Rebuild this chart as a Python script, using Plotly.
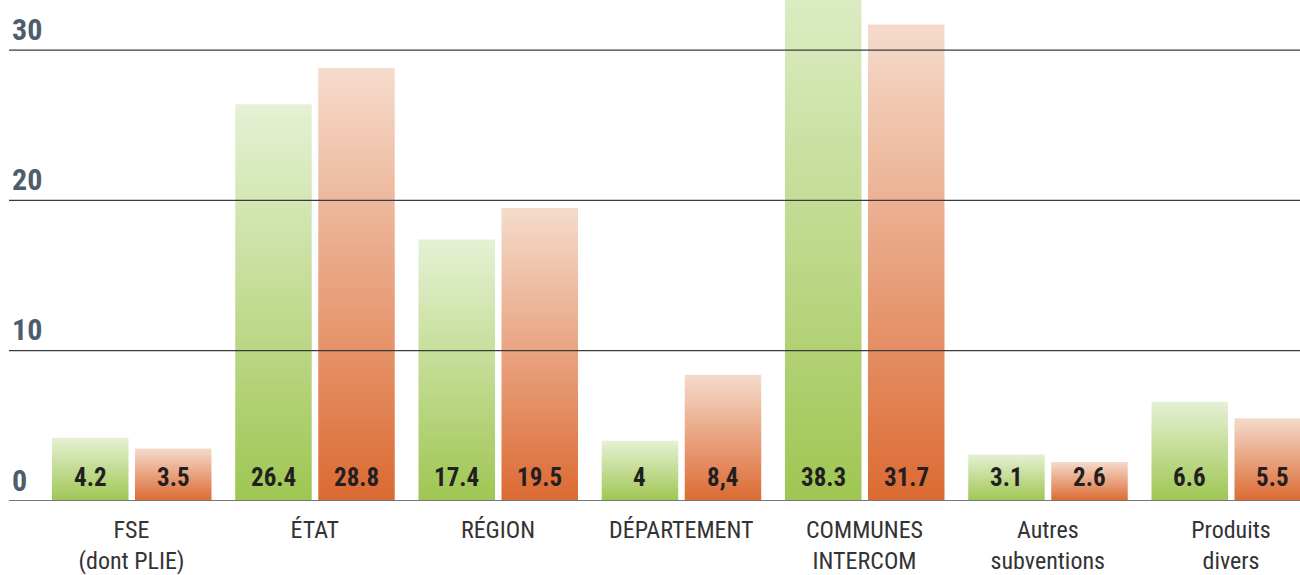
import plotly.graph_objects as go

categories = ["FSE<br>(dont PLIE)", "ÉTAT", "RÉGION", "DÉPARTEMENT",
              "COMMUNES<br>INTERCOM", "Autres<br>subventions", "Produits<br>divers"]
green_values = [4.2, 26.4, 17.4, 4.0, 38.3, 3.1, 6.6]
orange_values = [3.5, 28.8, 19.5, 8.4, 31.7, 2.6, 5.5]
green_labels = ["4.2", "26.4", "17.4", "4", "38.3", "3.1", "6.6"]
orange_labels = ["3.5", "28.8", "19.5", "8,4", "31.7", "2.6", "5.5"]
y_ticks = [0, 10, 20, 30]

FONT = "Liberation Sans Narrow, Roboto Condensed, Roboto, sans-serif"
BAR_W = 0.4175
GREEN_OFF = -0.434
ORANGE_OFF = 0.019

series = [
    (green_values, green_labels, GREEN_OFF, "#9fc652", "#e5f1d4"),
    (orange_values, orange_labels, ORANGE_OFF, "#dc6a32", "#f5dbcc"),
]

fig = go.Figure()
annotations = []
for values, labels, off, dark, light in series:
    for i, v in enumerate(values):
        l = i + off
        r = l + BAR_W
        fig.add_trace(go.Scatter(
            x=[l, r, r, l, l], y=[0, 0, v, v, 0],
            mode="lines", fill="toself", line=dict(width=0),
            fillgradient=dict(type="vertical", colorscale=[[0, dark], [1, light]]),
            hoverinfo="skip", showlegend=False,
        ))
        annotations.append(dict(
            x=(l + r) / 2, y=0, xref="x", yref="y", text=labels[i],
            showarrow=False, yanchor="middle", yshift=24,
            font=dict(family=FONT, size=25, color="#231f20", weight="bold"),
        ))

shapes = []
for t in y_ticks:
    shapes.append(dict(
        type="line", xref="paper", x0=0, x1=1, yref="y", y0=t, y1=t,
        line=dict(color="#777777" if t == 0 else "#3c3c3c", width=2 if t == 0 else 1.3),
        layer="above",
    ))

fig.update_layout(
    width=1300, height=575,
    margin=dict(l=9, r=0, t=0, b=70),
    plot_bgcolor="white", paper_bgcolor="white",
    showlegend=False,
    shapes=shapes,
    annotations=annotations,
    xaxis=dict(
        range=[-0.6685, 6.3765], tickmode="array",
        tickvals=list(range(len(categories))), ticktext=categories,
        showgrid=False, zeroline=False, showline=False, ticks="",
        tickfont=dict(family=FONT, size=24, color="#333333"),
        ticklabelstandoff=12,
    ),
    yaxis=dict(
        range=[0, 33.33], tickmode="array", tickvals=y_ticks,
        ticktext=[str(t) for t in y_ticks],
        showgrid=False, zeroline=False, showline=False, ticks="",
        ticklabelposition="inside top",
        tickfont=dict(family=FONT, size=30, color="#4e5d6c", weight="bold"),
    ),
)

fig.write_html(
    "out.html",
    config={"displayModeBar": False},
    post_script="document.body.style.margin='0';document.body.style.overflow='hidden';",
)
